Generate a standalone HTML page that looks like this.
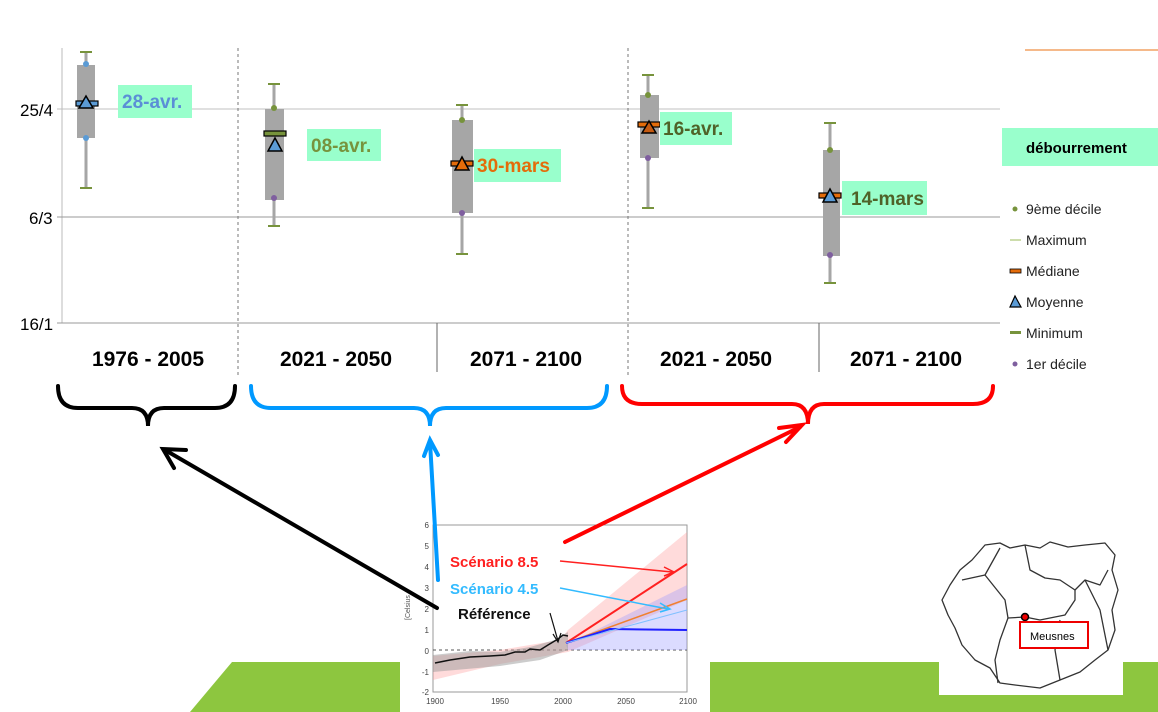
<!DOCTYPE html>
<html><head><meta charset="utf-8"><style>
html,body{margin:0;padding:0;background:#fff}
svg{display:block}
text{font-family:"Liberation Sans",sans-serif}
</style></head><body>
<svg width="1158" height="712" viewBox="0 0 1158 712" xmlns="http://www.w3.org/2000/svg">
<!-- green bar -->
<polygon points="232,662 1158,662 1158,712 190,712" fill="#8dc63f"/>
<!-- grid -->
<line x1="62" y1="48" x2="62" y2="323" stroke="#bbb" stroke-width="1"/>
<line x1="57" y1="109" x2="1000" y2="109" stroke="#c0c0c0"/>
<line x1="57" y1="217" x2="1000" y2="217" stroke="#999"/>
<line x1="57" y1="323" x2="1000" y2="323" stroke="#999"/>
<line x1="238" y1="48" x2="238" y2="375" stroke="#777" stroke-dasharray="3,3"/>
<line x1="628" y1="48" x2="628" y2="375" stroke="#777" stroke-dasharray="3,3"/>
<line x1="437" y1="323" x2="437" y2="372" stroke="#666"/>
<line x1="819" y1="323" x2="819" y2="372" stroke="#666"/>
<line x1="1025" y1="50" x2="1158" y2="50" stroke="#f5b98a" stroke-width="2"/>
<g font-size="17" fill="#000">
<text x="20" y="116">25/4</text><text x="29" y="224">6/3</text><text x="20" y="330">16/1</text>
</g>
<!-- boxes -->
<g stroke="#a6a6a6" stroke-width="3">
<line x1="86" y1="52" x2="86" y2="188"/><line x1="274" y1="84" x2="274" y2="226"/>
<line x1="462" y1="105" x2="462" y2="254"/><line x1="648" y1="75" x2="648" y2="208"/>
<line x1="830" y1="123" x2="830" y2="283"/>
</g>
<g fill="#a6a6a6">
<rect x="77" y="65" width="18" height="73"/><rect x="265" y="109" width="19" height="91"/>
<rect x="452" y="120" width="21" height="93"/><rect x="640" y="95" width="19" height="63"/>
<rect x="823" y="150" width="17" height="106"/>
</g>
<g stroke="#77933c" stroke-width="2">
<line x1="80" y1="52" x2="92" y2="52"/><line x1="80" y1="188" x2="92" y2="188"/>
<line x1="268" y1="84" x2="280" y2="84"/><line x1="268" y1="226" x2="280" y2="226"/>
<line x1="456" y1="105" x2="468" y2="105"/><line x1="456" y1="254" x2="468" y2="254"/>
<line x1="642" y1="75" x2="654" y2="75"/><line x1="642" y1="208" x2="654" y2="208"/>
<line x1="824" y1="123" x2="836" y2="123"/><line x1="824" y1="283" x2="836" y2="283"/>
</g>
<g>
<circle cx="86" cy="64" r="3" fill="#5b9bd5"/><circle cx="86" cy="138" r="3" fill="#5b9bd5"/>
<circle cx="274" cy="108" r="3" fill="#77933c"/><circle cx="274" cy="198" r="3" fill="#7f5f9f"/>
<circle cx="462" cy="120" r="3" fill="#77933c"/><circle cx="462" cy="213" r="3" fill="#7f5f9f"/>
<circle cx="648" cy="95" r="3" fill="#77933c"/><circle cx="648" cy="158" r="3" fill="#7f5f9f"/>
<circle cx="830" cy="150" r="3" fill="#77933c"/><circle cx="830" cy="255" r="3" fill="#7f5f9f"/>
</g>
<!-- medians -->
<rect x="76" y="101" width="22" height="5" fill="#5b9bd5" stroke="#000" stroke-width="1.2"/>
<rect x="264" y="131" width="22" height="5" fill="#77933c" stroke="#000" stroke-width="1.2"/>
<rect x="451" y="161" width="22" height="5" fill="#e46c0a" stroke="#000" stroke-width="1.2"/>
<rect x="638" y="122" width="22" height="5" fill="#e46c0a" stroke="#000" stroke-width="1.2"/>
<rect x="819" y="193" width="22" height="5" fill="#e46c0a" stroke="#000" stroke-width="1.2"/>
<g stroke="#000" stroke-width="1.5">
<polygon points="86,96 79,108 93,108" fill="#5b9bd5"/>
<polygon points="275,138 268,151 282,151" fill="#5b9bd5"/>
<polygon points="462,157 455,170 469,170" fill="#e46c0a"/>
<polygon points="649,121 642,133 656,133" fill="#c55a11"/>
<polygon points="830,189 823,202 837,202" fill="#5b9bd5"/>
</g>
<!-- labels -->
<g font-weight="bold" font-size="19">
<rect x="118" y="85" width="74" height="33" fill="#99ffcc"/><text x="122" y="108" fill="#5b8fd6">28-avr.</text>
<rect x="307" y="129" width="74" height="32" fill="#99ffcc"/><text x="311" y="152" fill="#77933c">08-avr.</text>
<rect x="474" y="149" width="87" height="33" fill="#99ffcc"/><text x="477" y="172" fill="#e46c0a">30-mars</text>
<rect x="660" y="112" width="72" height="33" fill="#99ffcc"/><text x="663" y="135" fill="#4f6228">16-avr.</text>
<rect x="842" y="181" width="85" height="34" fill="#99ffcc"/><text x="851" y="205" fill="#4f6228">14-mars</text>
</g>
<rect x="1002" y="128" width="156" height="38" fill="#99ffcc"/>
<text x="1026" y="153" font-weight="bold" font-size="15">débourrement</text>
<!-- legend -->
<g font-size="14" fill="#222">
<circle cx="1015" cy="209" r="2.5" fill="#77933c"/><text x="1026" y="214">9ème décile</text>
<line x1="1010" y1="240" x2="1021" y2="240" stroke="#9bbb59"/><text x="1026" y="245">Maximum</text>
<rect x="1010" y="269" width="11" height="4" fill="#e46c0a" stroke="#000" stroke-width="0.8"/><text x="1026" y="276">Médiane</text>
<polygon points="1015,296 1010,307 1021,307" fill="#5b9bd5" stroke="#000" stroke-width="1.2"/><text x="1026" y="307">Moyenne</text>
<rect x="1010" y="331" width="11" height="3" fill="#77933c"/><text x="1026" y="338">Minimum</text>
<circle cx="1015" cy="364" r="2.5" fill="#7f5f9f"/><text x="1026" y="369">1er décile</text>
</g>
<g font-weight="bold" font-size="21" text-anchor="middle">
<text x="148" y="366">1976 - 2005</text><text x="336" y="366">2021 - 2050</text>
<text x="526" y="366">2071 - 2100</text><text x="716" y="366">2021 - 2050</text>
<text x="906" y="366">2071 - 2100</text>
</g>
<!-- braces -->
<g fill="none" stroke-width="4" stroke-linecap="round">
<path d="M58,386 Q58,408 78,408 L132,408 Q148,408 148,426 Q148,408 164,408 L215,408 Q235,408 235,386" stroke="#000"/>
<path d="M251,386 Q251,408 271,408 L414,408 Q430,408 430,426 Q430,408 446,408 L587,408 Q607,408 607,386" stroke="#0099ff"/>
<path d="M622,386 Q622,404 642,404 L792,404 Q808,404 808,424 Q808,404 824,404 L973,404 Q993,404 993,386" stroke="#ff0000"/>
</g>
<!-- chart image -->
<rect x="400" y="515" width="310" height="197" fill="#fff"/>
<rect x="433" y="525" width="254" height="167" fill="none" stroke="#999"/>
<line x1="433" y1="650" x2="687" y2="650" stroke="#555" stroke-dasharray="3,3"/>
<g font-size="8" fill="#444" text-anchor="end">
<text x="429" y="528">6</text><text x="429" y="549">5</text><text x="429" y="570">4</text><text x="429" y="591">3</text><text x="429" y="612">2</text><text x="429" y="633">1</text><text x="429" y="654">0</text><text x="429" y="675">-1</text><text x="429" y="695">-2</text>
</g>
<g font-size="8" fill="#444" text-anchor="middle">
<text x="435" y="704">1900</text><text x="500" y="704">1950</text><text x="563" y="704">2000</text><text x="626" y="704">2050</text><text x="688" y="704">2100</text>
</g>
<text x="410" y="620" font-size="7" fill="#555" transform="rotate(-90 410 620)">[Celsius</text>
<polygon points="433,656 500,650 560,640 568,630 687,532 687,600 568,652 500,664 433,680" fill="#ff9999" opacity="0.35"/>
<polygon points="566,645 687,585 687,650 568,650" fill="#9999ff" opacity="0.35"/>
<polygon points="433,655 470,651 500,652 530,647 555,640 568,632 568,650 540,660 500,666 433,672" fill="#999" opacity="0.5"/>
<polyline points="435,663 450,660 470,657 490,656 505,655 515,652 525,652 530,649 540,650 548,645 553,642 558,639 563,635 568,636" fill="none" stroke="#111" stroke-width="1.5"/>
<line x1="566" y1="643" x2="687" y2="564" stroke="#ff2020" stroke-width="2"/>
<line x1="566" y1="643" x2="687" y2="599" stroke="#f08030" stroke-width="1.5"/>
<polyline points="566,643 610,629 687,630" fill="none" stroke="#2020ff" stroke-width="2"/>
<line x1="566" y1="643" x2="687" y2="610" stroke="#80c0ff" stroke-width="1"/>
<g font-weight="bold" font-size="15">
<text x="450" y="567" fill="#ff2020">Scénario 8.5</text>
<text x="450" y="594" fill="#33bbff">Scénario 4.5</text>
<text x="458" y="619" fill="#111">Référence</text>
</g>
<line x1="560" y1="561" x2="672" y2="572" stroke="#ff2020" stroke-width="1.5"/>
<polyline points="664,567 674,572 664,576" fill="none" stroke="#ff2020" stroke-width="1.5"/>
<line x1="560" y1="588" x2="668" y2="609" stroke="#33bbff" stroke-width="1.5"/>
<polyline points="660,603 670,609 660,612" fill="none" stroke="#33bbff" stroke-width="1.5"/>
<line x1="550" y1="613" x2="558" y2="641" stroke="#111" stroke-width="1.2"/>
<polyline points="553,634 558,642 561,633" fill="none" stroke="#111" stroke-width="1.2"/>
<!-- arrows -->
<g stroke-width="4" fill="none" stroke-linecap="round">
<line x1="437" y1="608" x2="165" y2="450" stroke="#000"/>
<polyline points="186,450 163,449 174,468" stroke="#000"/>
<line x1="438" y1="580" x2="430" y2="442" stroke="#0099ff"/>
<polyline points="424,456 430,440 438,455" stroke="#0099ff"/>
<line x1="565" y1="542" x2="800" y2="427" stroke="#ff0000"/>
<polyline points="779,428 802,425 786,442" stroke="#ff0000"/>
</g>
<!-- map -->
<rect x="939" y="540" width="184" height="155" fill="#fff"/>
<g fill="none" stroke="#333" stroke-width="1.3" stroke-linejoin="round">
<path d="M985,545 L1000,543 1010,548 1025,545 1040,548 1050,542 1068,547 1085,545 1105,543 1115,555 1112,570 1118,590 1112,610 1115,630 1108,650 1095,660 1080,672 1060,680 1040,688 1015,685 1000,683 990,668 975,660 962,645 955,628 948,615 942,600 950,585 960,570 972,560 985,545 Z"/>
<path d="M1025,545 L1030,570 1045,578 1060,580 1075,590 1085,580 1100,585 1108,570"/>
<path d="M1000,548 L985,575 962,580"/>
<path d="M985,575 L1005,600 1008,618 1025,617 1040,620 1065,615 1075,600 1075,590"/>
<path d="M1008,618 L1000,640 995,660 998,683"/>
<path d="M1060,620 L1055,650 1060,680"/>
<path d="M1085,580 L1100,610 1108,650"/>
</g>
<circle cx="1025" cy="617" r="3.5" fill="#e00" stroke="#000" stroke-width="1.5"/>
<rect x="1020" y="622" width="68" height="26" fill="#fff" stroke="#e00" stroke-width="2"/>
<text x="1030" y="640" font-size="11" fill="#000">Meusnes</text>
</svg>
</body></html>
